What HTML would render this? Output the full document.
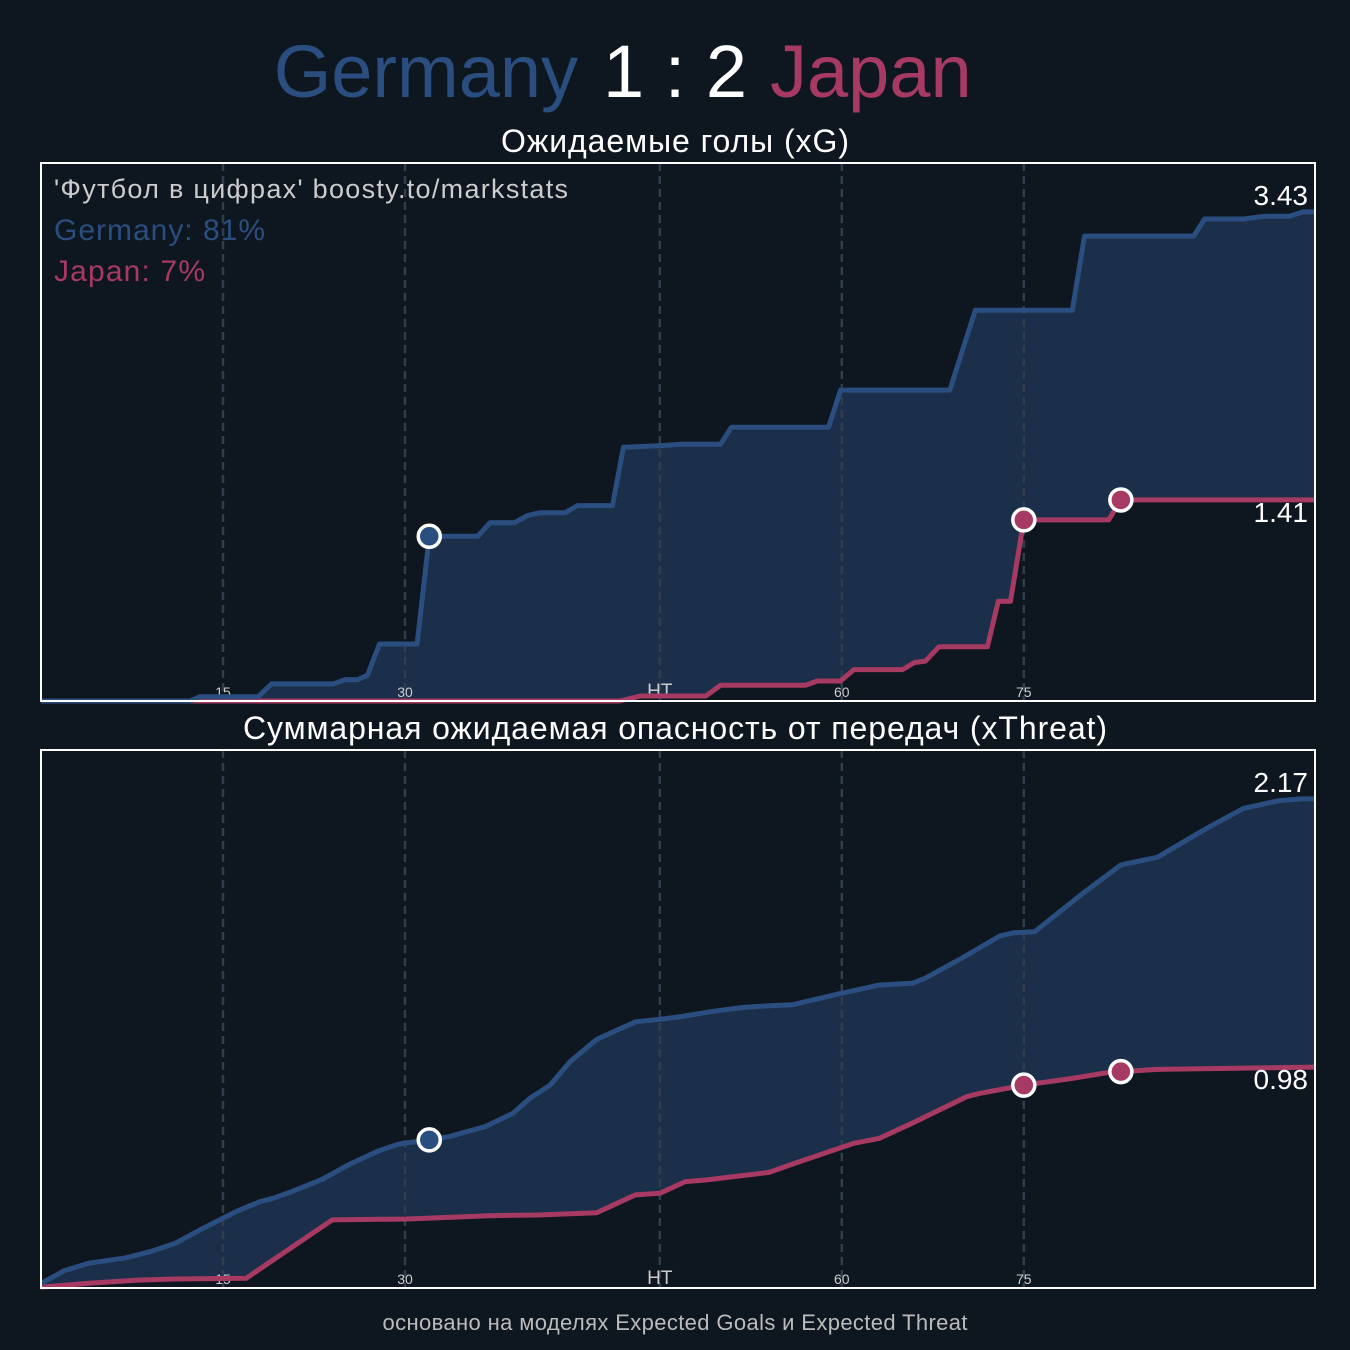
<!DOCTYPE html>
<html><head><meta charset="utf-8"><style>
html,body{margin:0;padding:0;background:#0e1720;}
svg{display:block;font-family:"Liberation Sans","DejaVu Sans",sans-serif;}
</style></head><body>
<svg id="chart" width="1350" height="1350" viewBox="0 0 1350 1350" xmlns="http://www.w3.org/2000/svg">
<rect x="0" y="0" width="1350" height="1350" fill="#0e1720"/>
<text x="578" y="97" font-size="74" fill="#2a4e7f" text-anchor="end">Germany</text>
<text x="675" y="97" font-size="74" fill="#ffffff" text-anchor="middle">1 : 2</text>
<text x="770" y="97" font-size="74" fill="#a63a62" text-anchor="start">Japan</text>
<text x="675" y="152" font-size="32" fill="#ffffff" text-anchor="middle" textLength="348">Ожидаемые голы (xG)</text>
<text x="675" y="739" font-size="32" fill="#ffffff" text-anchor="middle" textLength="864">Суммарная ожидаемая опасность от передач (xThreat)</text>
<text x="675" y="1330" font-size="22" fill="#bbbbbb" text-anchor="middle" textLength="585">основано на моделях Expected Goals и Expected Threat</text>
<g id="p1"></g>
<g id="p2"></g>
<text x="54" y="198" font-size="27" fill="#cccccc" textLength="514">'Футбол в цифрах' boosty.to/markstats</text>
<text x="54" y="240" font-size="30" fill="#2a4e7f" textLength="211">Germany: 81%</text>
<text x="54" y="281" font-size="30" fill="#a63a62" textLength="151">Japan: 7%</text>
</svg>
<script>
// Shared x-axis ticks (plot-minute positions; second half shifted by stoppage time)
const tickMinutes = [15, 30, 51, 66, 81];
const tickLabels = ["15", "30", "HT", "60", "75"];
// xG data
const xgGerMin = [0,12.3,13.1,17.9,19.0,24.1,25.1,26.1,26.9,27.9,31.0,32.0,36.0,37.0,39.0,40.1,41.1,43.2,44.2,47.1,48.0,51.0,52.7,56.0,56.9,64.9,65.9,74.9,77.0,85.0,86.0,95.0,95.9,99.1,100.9,102.9,104.0,105];
const xgGerVal = [0,0,0.03,0.03,0.12,0.12,0.15,0.15,0.18,0.40,0.40,1.155,1.155,1.25,1.25,1.30,1.32,1.32,1.37,1.37,1.78,1.79,1.80,1.80,1.92,1.92,2.18,2.18,2.74,2.74,3.26,3.26,3.38,3.38,3.40,3.40,3.43,3.43];
const xgJpnMin = [0,47.7,49.4,54.8,56.0,63.0,64.0,65.9,67.0,71.0,72.0,72.9,74.0,78.0,78.9,79.9,81.0,88.0,89.0,105];
const xgJpnVal = [0,0,0.035,0.035,0.11,0.11,0.14,0.14,0.22,0.22,0.27,0.28,0.38,0.38,0.70,0.70,1.27,1.27,1.41,1.41];
// xThreat data
const xtGerMin = [0,1.94,3.96,7.0,8.98,11.04,13.35,16.07,18.05,19.12,20.77,23.16,25.47,27.86,29.5,32.0,33.55,36.6,38.9,40.3,41.95,43.6,45.8,49.0,51.0,52.75,55.2,57.9,60.0,61.95,65.6,69.06,71.8,72.86,76.0,79.04,80.15,81.9,85.7,89.0,92.0,96.1,99.1,102.0,103.8,105];
const xtGerVal = [0.02,0.077,0.11,0.134,0.161,0.198,0.265,0.339,0.383,0.398,0.43,0.482,0.55,0.609,0.639,0.657,0.671,0.716,0.775,0.842,0.90,1.004,1.103,1.181,1.192,1.204,1.226,1.245,1.252,1.257,1.303,1.344,1.352,1.374,1.467,1.562,1.576,1.581,1.744,1.877,1.911,2.04,2.128,2.162,2.17,2.17];
const xtJpnMin = [0,3.96,8.0,11.04,16.9,24.0,30.2,36.9,40.96,45.8,49.0,51.0,53.1,54.8,60.0,62.1,67.0,69.1,71.8,76.3,77.4,81.0,85.0,87.8,89.0,92.0,105];
const xtJpnVal = [0.004,0.021,0.035,0.04,0.043,0.302,0.306,0.321,0.324,0.334,0.413,0.42,0.472,0.479,0.513,0.553,0.642,0.664,0.731,0.849,0.864,0.90,0.93,0.955,0.96,0.97,0.98];
// Goals
const gerGoals = [32];
const jpnGoals = [81, 89];

const NS = "http://www.w3.org/2000/svg";
const BLUE = "#2a4e7f", RED = "#a63a62", FILL = "#1b2f4a";
const X0 = 41, X1 = 1315, MAXMIN = 105;
function xs(m) { return X0 + m / MAXMIN * (X1 - X0); }
function interp(ms, vs, m) {
  for (let i = 1; i < ms.length; i++) {
    if (m <= ms[i]) { const t = (m - ms[i-1]) / ((ms[i] - ms[i-1]) || 1); return vs[i-1] + t * (vs[i] - vs[i-1]); }
  }
  return vs[vs.length - 1];
}
function mk(tag, attrs, parent) {
  const e = document.createElementNS(NS, tag);
  for (const k in attrs) e.setAttribute(k, attrs[k]);
  parent.appendChild(e);
  return e;
}
function drawPanel(g, top, bottom, gm, gv, jm, jv, prefix) {
  const ymax = Math.max(gv[gv.length-1], jv[jv.length-1]) * 1.1;
  const ys = v => bottom - v / ymax * (bottom - top);
  const gPts = gm.map((m, i) => xs(m).toFixed(1) + "," + ys(gv[i]).toFixed(1));
  const jPts = jm.map((m, i) => xs(m).toFixed(1) + "," + ys(jv[i]).toFixed(1));
  const area = mk("polygon", {points: gPts.concat(jPts.slice().reverse()).join(" "), fill: FILL}, g);
  
  
  tickMinutes.forEach((m, i) => {
    const ln = mk("line", {x1: xs(m), x2: xs(m), y1: top, y2: bottom, stroke: "#2f3d4c", "stroke-width": 2.5, "stroke-dasharray": "8,5"}, g);
    
    
    const isHT = tickLabels[i] === "HT";
    const t = mk("text", {x: xs(m), y: bottom - 4, "font-size": isHT ? 19 : 14, fill: "#cccccc", "text-anchor": "middle"}, g);
    t.textContent = tickLabels[i];
    
    
  });
  const jl = mk("polyline", {points: jPts.join(" "), fill: "none", stroke: RED, "stroke-width": 5, "stroke-linejoin": "round"}, g);
  
  
  const gl = mk("polyline", {points: gPts.join(" "), fill: "none", stroke: BLUE, "stroke-width": 5, "stroke-linejoin": "round"}, g);
  
  
  gerGoals.forEach(m => {
    const c = mk("circle", {cx: xs(m), cy: ys(interp(gm, gv, m)), r: 11, fill: BLUE, stroke: "#fff", "stroke-width": 3.5}, g);
    
    
  });
  jpnGoals.forEach(m => {
    const c = mk("circle", {cx: xs(m), cy: ys(interp(jm, jv, m)), r: 11, fill: RED, stroke: "#fff", "stroke-width": 3.5}, g);
    
    
  });
  const gLast = gv[gv.length-1], jLast = jv[jv.length-1];
  const t1 = mk("text", {x: 1308, y: ys(gLast) - 7, "font-size": 28, fill: "#fff", "text-anchor": "end"}, g);
  t1.textContent = gLast.toFixed(2);
  
  
  const t2 = mk("text", {x: 1308, y: ys(jLast) + 22, "font-size": 28, fill: "#fff", "text-anchor": "end"}, g);
  t2.textContent = jLast.toFixed(2);
  
  
  const fr = mk("rect", {x: X0, y: top, width: X1 - X0, height: bottom - top, fill: "none", stroke: "#ffffff", "stroke-width": 2}, g);
  
  
}
drawPanel(document.getElementById("p1"), 163, 701, xgGerMin, xgGerVal, xgJpnMin, xgJpnVal, "xg");
drawPanel(document.getElementById("p2"), 750, 1288, xtGerMin, xtGerVal, xtJpnMin, xtJpnVal, "xt");
</script>
</body></html>
